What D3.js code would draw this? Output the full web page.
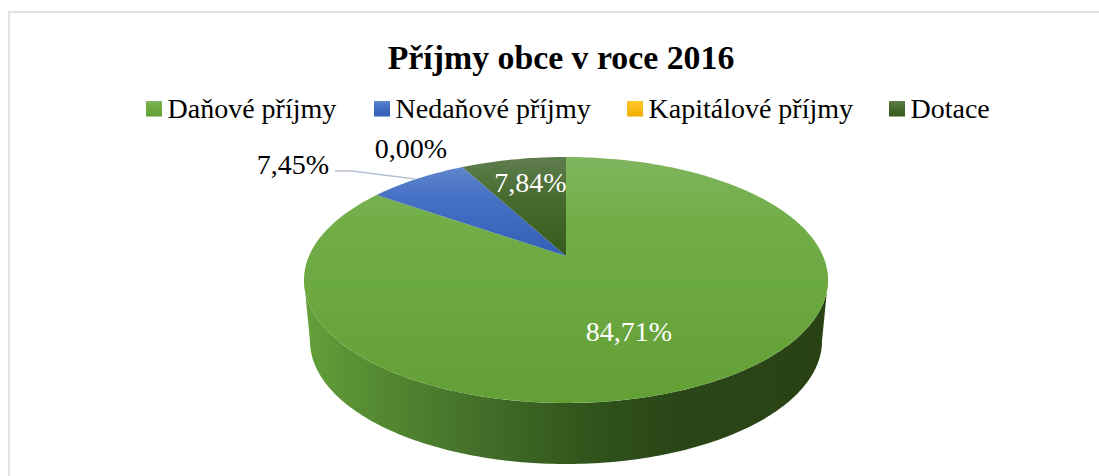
<!DOCTYPE html>
<html>
<head>
<meta charset="utf-8">
<script src="https://cdnjs.cloudflare.com/ajax/libs/d3/7.8.5/d3.min.js"></script>
<style>
html, body { margin: 0; padding: 0; background: #fff; }
svg { display: block; }
text { font-family: "Liberation Serif", serif; }
</style>
</head>
<body>
<script>
// Data.
var title = 'Příjmy obce v roce 2016';
var categories = ['Daňové příjmy', 'Nedaňové příjmy', 'Kapitálové příjmy', 'Dotace'];
var shares = [84.71, 7.45, 0.00, 7.84];

var width = 1099,
    height = 476;

// Tilted pie: disc centre, half axes, perspective strength and rim depth.
var cx = 566,
    cy = 256,
    rx = 257,
    ry = 118.3,
    persp = 0.195,
    depth = 61,
    rimShrink = 0.977;

var svg = d3.select('body').append('svg')
    .attr('width', width)
    .attr('height', height);

var defs = svg.append('defs');

function linearGradient(id, stops, horizontal, units) {
    var g = defs.append('linearGradient')
        .attr('id', id)
        .attr('x1', units ? units[0] : 0)
        .attr('x2', units ? units[1] : (horizontal ? 1 : 0))
        .attr('y1', 0)
        .attr('y2', horizontal ? 0 : 1);
    if (units) g.attr('gradientUnits', 'userSpaceOnUse');
    stops.forEach(function(s) {
        g.append('stop').attr('offset', s[0]).attr('stop-color', s[1]);
    });
}

linearGradient('slice0', [[0, '#80b55f'], [0.25, '#71ae48'], [1, '#62a035']]);
linearGradient('slice1', [[0, '#5f85cb'], [0.35, '#4570c4'], [1, '#335fb5']]);
linearGradient('slice2', [[0, '#ffc72a'], [1, '#f0ad00']]);
linearGradient('slice3', [[0, '#5f7d4e'], [0.4, '#486c30'], [1, '#375a1c']]);
linearGradient('side', [[0, '#629f3a'], [0.12, '#558b32'], [0.35, '#416d28'], [0.55, '#30531b'],
    [0.72, '#2a4617'], [1, '#284214']], true, [310, 822]);

// Project an angle on the unit disc (0 = top, clockwise) to the screen.
function project(angle, r, dy, shrink) {
    var u = r * Math.sin(angle),
        v = -r * Math.cos(angle),
        w = 1 - persp * v;
    return [cx + shrink * rx * u / w, cy + dy + ry * v / w];
}

var line = d3.line();

function rimPoints(a0, a1, dy, shrink) {
    var n = Math.max(2, Math.ceil(Math.abs(a1 - a0) * 60));
    return d3.range(n + 1).map(function(i) {
        return project(a0 + (a1 - a0) * i / n, 1, dy, shrink);
    });
}

// Frame, open on the right and at the bottom like the cropped original.
svg.append('path')
    .attr('d', line([[9, height], [9, 12], [width, 12]]))
    .attr('fill', 'none')
    .attr('stroke', '#dfe3e8')
    .attr('stroke-width', 2);

svg.append('text')
    .attr('x', 561)
    .attr('y', 69)
    .attr('text-anchor', 'middle')
    .attr('font-size', 33.8)
    .attr('font-weight', 'bold')
    .attr('fill', '#000')
    .text(title);

// Legend
var legendX = [146, 374, 627, 889];
var legend = svg.append('g').selectAll('g')
    .data(categories)
    .enter()
    .append('g')
    .attr('transform', function(d, i) { return 'translate(' + legendX[i] + ',0)'; });

legend.append('rect')
    .attr('x', 0)
    .attr('y', 101)
    .attr('width', 16)
    .attr('height', 15.5)
    .attr('fill', function(d, i) { return 'url(#slice' + i + ')'; });

legend.append('text')
    .attr('x', 21.5)
    .attr('y', 118)
    .attr('font-size', 28)
    .attr('fill', '#000')
    .text(function(d) { return d; });

// Side wall, only the front half can be seen.
var frontStart = Math.acos(-persp),
    frontEnd = 2 * Math.PI - frontStart;

svg.append('path')
    .attr('d', line(rimPoints(frontStart, frontEnd, 0, 1)
        .concat(rimPoints(frontEnd, frontStart, depth, rimShrink))) + 'Z')
    .attr('fill', 'url(#side)');

// Top of the pie
var pie = d3.pie().sort(null).value(function(d) { return d; });
var arcs = pie(shares);

svg.append('g').selectAll('path')
    .data(arcs)
    .enter()
    .append('path')
    .attr('d', function(d) {
        return line([[cx, cy]].concat(rimPoints(d.startAngle, d.endAngle, 0, 1))) + 'Z';
    })
    .attr('fill', function(d, i) { return 'url(#slice' + i + ')'; });

// Data labels
function labelText(v) {
    return v.toFixed(2).replace('.', ',') + '%';
}
var labelPos = [[629, 341], [293, 174], [411, 158], [530.5, 192]];
var labelFill = ['#fff', '#000', '#000', '#fff'];

svg.append('g').selectAll('text')
    .data(shares)
    .enter()
    .append('text')
    .attr('x', function(d, i) { return labelPos[i][0]; })
    .attr('y', function(d, i) { return labelPos[i][1]; })
    .attr('text-anchor', 'middle')
    .attr('font-size', 28)
    .attr('fill', function(d, i) { return labelFill[i]; })
    .text(labelText);

// Leader line for the blue slice
svg.append('path')
    .attr('d', line([[335, 171], [352, 171], [415, 179]]))
    .attr('fill', 'none')
    .attr('stroke', '#b4c0cf')
    .attr('stroke-width', 1.3);
</script>
</body>
</html>
